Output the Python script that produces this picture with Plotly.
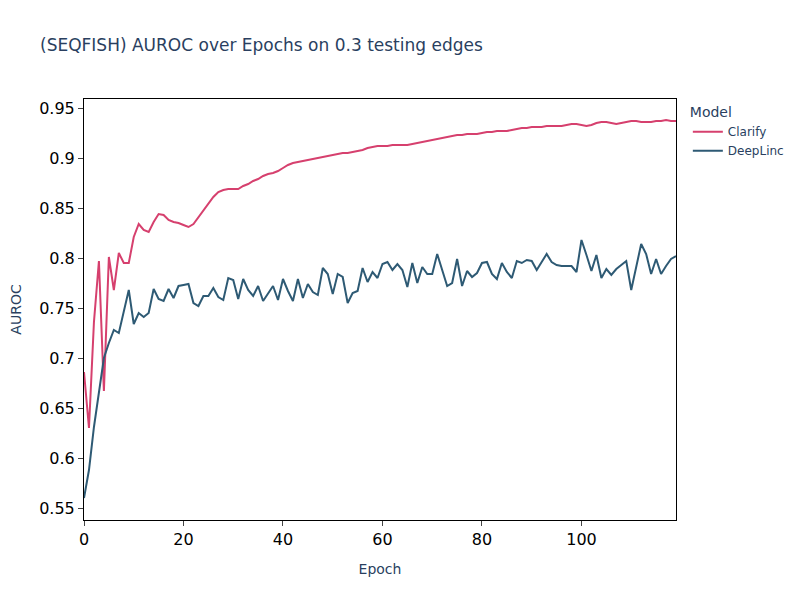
import plotly.graph_objects as go

# AUROC per epoch
epochs = list(range(120))

clarify_auroc = [
    0.686, 0.630, 0.736, 0.797, 0.667, 0.801, 0.768, 0.805, 0.795, 0.795,
    0.821, 0.834, 0.828, 0.826, 0.836, 0.844, 0.843, 0.838, 0.836, 0.835,
    0.833, 0.831, 0.834, 0.841, 0.848, 0.855, 0.861, 0.866, 0.868, 0.869,
    0.869, 0.869, 0.872, 0.874, 0.877, 0.879, 0.882, 0.884, 0.885, 0.887,
    0.890, 0.893, 0.895, 0.896, 0.897, 0.898, 0.899, 0.900, 0.901, 0.902,
    0.903, 0.904, 0.905, 0.905, 0.906, 0.907, 0.908, 0.910, 0.911, 0.912,
    0.912, 0.912, 0.913, 0.913, 0.913, 0.913, 0.914, 0.915, 0.916, 0.917,
    0.918, 0.919, 0.920, 0.921, 0.922, 0.923, 0.923, 0.924, 0.924, 0.924,
    0.925, 0.926, 0.926, 0.927, 0.927, 0.927, 0.928, 0.929, 0.930, 0.930,
    0.931, 0.931, 0.931, 0.932, 0.932, 0.932, 0.932, 0.933, 0.934, 0.934,
    0.933, 0.932, 0.933, 0.935, 0.936, 0.936, 0.935, 0.934, 0.935, 0.936,
    0.937, 0.937, 0.936, 0.936, 0.936, 0.937, 0.937, 0.938, 0.937, 0.937,
]

deeplinc_auroc = [
    0.560, 0.588, 0.631, 0.665, 0.700, 0.715, 0.728, 0.725, 0.748, 0.768,
    0.734, 0.745, 0.741, 0.745, 0.769, 0.759, 0.757, 0.769, 0.760, 0.772,
    0.773, 0.774, 0.755, 0.752, 0.762, 0.762, 0.770, 0.761, 0.758, 0.780,
    0.778, 0.759, 0.779, 0.768, 0.762, 0.772, 0.757, 0.765, 0.772, 0.758,
    0.779, 0.767, 0.757, 0.779, 0.760, 0.774, 0.766, 0.763, 0.790, 0.784,
    0.764, 0.784, 0.781, 0.755, 0.765, 0.767, 0.790, 0.776, 0.786, 0.780,
    0.794, 0.796, 0.788, 0.794, 0.788, 0.771, 0.795, 0.775, 0.791, 0.784,
    0.784, 0.804, 0.789, 0.772, 0.775, 0.799, 0.772, 0.787, 0.781, 0.785,
    0.795, 0.796, 0.784, 0.779, 0.795, 0.786, 0.780, 0.797, 0.795, 0.798,
    0.797, 0.788, 0.796, 0.804, 0.796, 0.793, 0.792, 0.792, 0.792, 0.786,
    0.818, 0.803, 0.787, 0.803, 0.780, 0.789, 0.783, 0.789, 0.793, 0.797,
    0.768, 0.791, 0.814, 0.804, 0.784, 0.799, 0.784, 0.792, 0.799, 0.802,
]

fig = go.Figure()
fig.add_trace(go.Scatter(x=epochs, y=clarify_auroc, mode='lines', name='Clarify',
                         line=dict(color='#d6406e', width=2)))
fig.add_trace(go.Scatter(x=epochs, y=deeplinc_auroc, mode='lines', name='DeepLinc',
                         line=dict(color='#2e5a74', width=2)))

fig.update_layout(
    width=800, height=600,
    template='plotly_white',
    font=dict(family='DejaVu Sans'),
    title=dict(text='(SEQFISH) AUROC over Epochs on 0.3 testing edges',
               x=0.04, xanchor='left', y=0.938, yanchor='middle'),
    legend_title_text='Model',
    margin=dict(l=76, r=132, t=91, b=88),
    plot_bgcolor='white',
)
fig.update_xaxes(title_text='Epoch', range=[0, 119], showgrid=False, zeroline=False,
                 showline=True, linecolor='black', linewidth=1, mirror=True,
                 ticks='outside', tickcolor='#444', tickfont=dict(size=16, color='black'),
                 dtick=20, automargin=False)
fig.update_yaxes(title_text='AUROC', range=[0.538, 0.959], showgrid=False, zeroline=False,
                 showline=True, linecolor='black', linewidth=1, mirror=True,
                 ticks='outside', tickcolor='#444', tickfont=dict(size=16, color='black'),
                 dtick=0.05, automargin=False)

fig.write_html("out.html")
